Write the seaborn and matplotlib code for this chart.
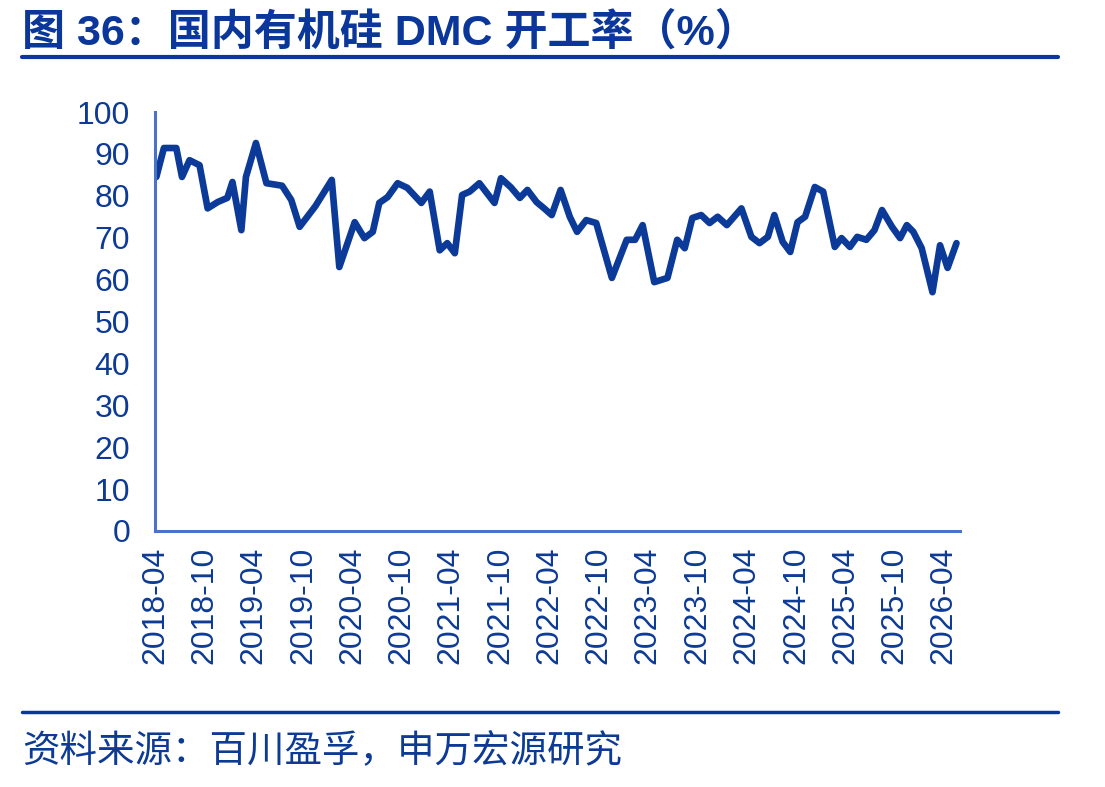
import matplotlib
matplotlib.use("Agg")
import matplotlib.pyplot as plt
import matplotlib.dates as mdates
from matplotlib.lines import Line2D
import pandas as pd
import seaborn as sns

# ---- data ----
dates = [
    "2018-04-06", "2018-05-04", "2018-06-19", "2018-07-10", "2018-08-07", "2018-09-13",
    "2018-10-13", "2018-11-19", "2018-12-25", "2019-01-13", "2019-02-15", "2019-03-04",
    "2019-04-10", "2019-05-19", "2019-06-28", "2019-07-16", "2019-08-19", "2019-09-19",
    "2019-11-16", "2020-01-16", "2020-02-13", "2020-04-10", "2020-05-16", "2020-06-16",
    "2020-07-10", "2020-08-10", "2020-09-16", "2020-10-22", "2020-12-13", "2021-01-13",
    "2021-02-19", "2021-03-19", "2021-04-16", "2021-05-13", "2021-06-10", "2021-07-16",
    "2021-09-10", "2021-10-04", "2021-11-10", "2021-12-13", "2022-01-10", "2022-02-13",
    "2022-03-13", "2022-04-10", "2022-05-13", "2022-06-16", "2022-07-13", "2022-08-16",
    "2022-09-22", "2022-11-19", "2023-01-13", "2023-02-13", "2023-03-13", "2023-04-25",
    "2023-06-13", "2023-07-19", "2023-08-16", "2023-09-13", "2023-10-16", "2023-11-16",
    "2023-12-16", "2024-01-19", "2024-03-13", "2024-04-19", "2024-05-19", "2024-06-19",
    "2024-07-13", "2024-08-13", "2024-09-10", "2024-10-07", "2024-11-04", "2024-12-10",
    "2025-01-10", "2025-02-22", "2025-03-19", "2025-04-19", "2025-05-16", "2025-06-19",
    "2025-07-19", "2025-08-16", "2025-09-22", "2025-10-22", "2025-11-16", "2025-12-10",
    "2026-01-10", "2026-02-19", "2026-03-19", "2026-04-16", "2026-05-19",
]
rates = [
    84.5, 91.4, 91.4, 84.5, 88.5, 87.3,
    77.0, 78.5, 79.5, 83.3, 71.8, 84.5,
    92.6, 83.0, 82.6, 82.4, 79.0, 72.6,
    77.5, 83.8, 63.0, 73.7, 69.9, 71.4,
    78.3, 79.7, 83.0, 81.9, 78.3, 81.0,
    67.0, 68.7, 66.3, 80.2, 81.0, 83.0,
    78.3, 84.2, 82.0, 79.5, 81.4, 78.5,
    77.0, 75.4, 81.4, 75.0, 71.4, 74.2,
    73.5, 60.4, 69.5, 69.5, 73.0, 59.4,
    60.4, 69.5, 67.5, 74.7, 75.4, 73.5,
    75.0, 73.0, 77.0, 70.2, 68.7, 70.2,
    75.4, 69.0, 66.6, 73.7, 75.0, 82.1,
    81.0, 67.8, 69.9, 67.8, 70.2, 69.5,
    71.8, 76.6, 72.6, 69.9, 73.0, 71.4,
    67.5, 57.0, 68.2, 62.8, 68.7,
]
y_ticks = [0, 10, 20, 30, 40, 50, 60, 70, 80, 90, 100]
title_text = "图 36：国内有机硅 DMC 开工率（%）"
source_text = "资料来源：百川盈孚，申万宏源研究"

df = pd.DataFrame({"date": pd.to_datetime(dates), "rate": rates})

# ---- style ----
sns.set_style("white")
plt.rcParams["font.family"] = ["Liberation Sans", "Noto Sans CJK SC", "DejaVu Sans"]

LINE_C = "#0B3A98"
TEXT_C = "#0D3A94"
SPINE_C = "#4A72C8"
TITLE_C = "#0A3799"

fig = plt.figure(figsize=(11.05, 7.87), dpi=100)
ax = fig.add_axes([155 / 1105, 1 - 531 / 787, (960 - 155) / 1105, (531 - 112) / 787])

sns.lineplot(data=df, x="date", y="rate", ax=ax, color=LINE_C, linewidth=4.8,
             solid_joinstyle="round", solid_capstyle="round")

ax.set_xlim(pd.Timestamp("2018-04-01"), pd.Timestamp("2026-06-01"))
ax.set_ylim(0, 100)
ax.set_yticks(y_ticks)
ax.xaxis.set_major_locator(mdates.MonthLocator(bymonth=[4, 10]))
ax.xaxis.set_major_formatter(mdates.DateFormatter("%Y-%m"))
ax.set_xlabel("")
ax.set_ylabel("")

for s in ["top", "right"]:
    ax.spines[s].set_visible(False)
for s in ["left", "bottom"]:
    ax.spines[s].set_color(SPINE_C)
    ax.spines[s].set_linewidth(2.2)

ax.tick_params(axis="y", direction="out", length=6, width=2, color=SPINE_C,
               labelcolor=TEXT_C, labelsize=23, pad=12)
ax.tick_params(axis="x", direction="out", length=6, width=2, color=SPINE_C,
               labelcolor=TEXT_C, labelsize=23, pad=5, labelrotation=90)
ax.grid(False)

# ---- title, rules, source ----
fig.text(22 / 1105, 1 - 33 / 787, title_text, fontsize=31, fontweight="bold",
         color=TITLE_C, ha="left", va="center",
         family=["Liberation Sans", "Noto Sans CJK SC", "DejaVu Sans"])
fig.add_artist(Line2D([22 / 1105, 1058 / 1105], [1 - 57 / 787, 1 - 57 / 787],
                      transform=fig.transFigure, color=TITLE_C, linewidth=3))
fig.add_artist(Line2D([22 / 1105, 1058 / 1105], [1 - 712 / 787, 1 - 712 / 787],
                      transform=fig.transFigure, color=TITLE_C, linewidth=2.5))
fig.text(22 / 1105, 1 - 752 / 787, source_text, fontsize=27, color=TEXT_C,
         ha="left", va="center",
         family=["Noto Sans CJK SC", "Liberation Sans", "DejaVu Sans"])

fig.savefig("out.png", dpi=100)
